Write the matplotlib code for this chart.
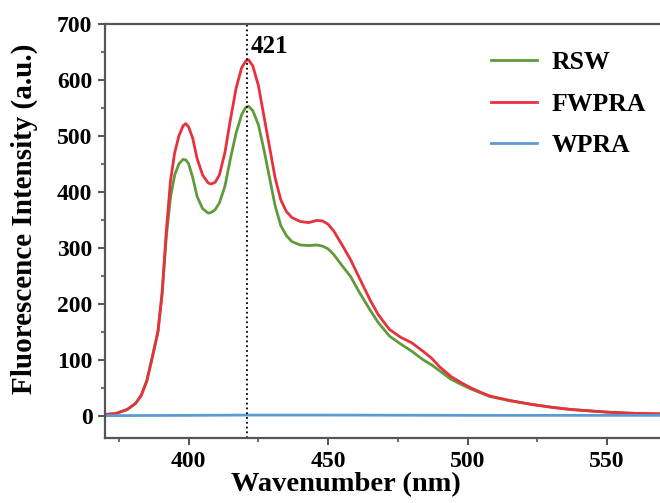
import matplotlib.pyplot as plt

# datos
onda_rojo = [370, 374, 378, 381, 383, 385, 387, 389, 390.5, 392, 393.5, 395, 396.5, 398, 399,
             400, 401.5, 403, 405, 407, 408, 409.5, 411, 413, 415, 417, 419, 420.5, 421.5, 423,
             425, 427, 429, 431, 433, 435, 437, 440, 443, 446, 448, 450, 452, 455, 458, 461,
             465, 468, 472, 476, 480, 484, 487, 490, 494, 498, 501, 505, 508, 515, 523, 530,
             537, 545, 551, 560, 570]
fwpra = [2, 4, 11, 22, 36, 62, 105, 150, 220, 330, 420, 470, 500, 518, 522,
         516, 495, 460, 430, 416, 414, 417, 430, 470, 530, 585, 622, 634, 636, 625,
         590, 535, 480, 425, 386, 365, 354, 347, 345, 349, 348, 342, 330, 305, 279, 248,
         207, 180, 154, 140, 130, 115, 103, 87, 70, 58, 50, 41, 35, 27, 20, 15,
         11, 8, 6, 4, 3]

onda_verde = [370, 374, 378, 381, 383, 385, 387, 389, 390.5, 392, 393.5, 395, 396.5, 398, 399,
              400, 401.5, 403, 405, 407, 408, 409.5, 411, 413, 415, 417, 419, 420.5, 421.5, 423,
              425, 427, 429, 431, 433, 435, 437, 440, 443, 446, 448, 450, 452, 455, 458, 461,
              465, 468, 472, 476, 480, 484, 487, 490, 494, 498, 501, 505, 508, 515, 523, 530,
              537, 545, 551, 560, 570]
rsw = [2, 4, 11, 22, 36, 62, 105, 150, 218, 320, 390, 430, 450, 458, 457,
       450, 425, 392, 370, 362, 363, 368, 380, 410, 460, 505, 538, 551, 553, 545,
       520, 475, 425, 375, 340, 322, 311, 305, 304, 305, 303, 298, 288, 268, 249, 222,
       189, 166, 142, 128, 115, 100, 91, 80, 65, 55, 48, 40, 34, 27, 20, 15,
       11, 8, 6, 4, 3]

onda_azul = [370, 400, 420, 450, 500, 550, 570]
wpra = [0, 0.5, 1, 1, 0.5, 0.5, 0.5]

pico = 421

plt.rcParams['font.family'] = ['Liberation Serif', 'DejaVu Serif']
plt.rcParams['font.weight'] = 'bold'

fig = plt.figure(figsize=(6.6, 5.03), dpi=100)
ax = fig.add_axes([0.159, 0.1292, 0.8455, 0.8231])

ax.plot(onda_verde, rsw, color='#5f9b3c', linewidth=2.0, label='RSW')
ax.plot(onda_rojo, fwpra, color='#e8313d', linewidth=2.0, label='FWPRA')
ax.plot(onda_azul, wpra, color='#5b9bd5', linewidth=2.0, label='WPRA')

ax.axvline(pico, color='k', linestyle=':', linewidth=1.3)
ax.text(pico + 1.2, 660, str(pico), fontsize=18, fontweight='bold', va='center')

ax.set_xlim(370, 570)
ax.set_ylim(-40, 700)
ax.set_xticks([400, 450, 500, 550])
ax.set_xticks([375, 425, 475, 525], minor=True)
ax.set_yticks(range(0, 701, 100))
ax.set_yticks(range(50, 700, 100), minor=True)

ax.tick_params(which='major', direction='out', length=5, width=1.3, labelsize=17,
               color='#444444', pad=4)
ax.tick_params(which='minor', direction='out', length=3, width=1.1, color='#444444')
for lbl in ax.get_xticklabels() + ax.get_yticklabels():
    lbl.set_fontweight('bold')

for s in ['left', 'bottom', 'top']:
    ax.spines[s].set_color('#555555')
    ax.spines[s].set_linewidth(1.6)
ax.spines['right'].set_visible(False)

ax.set_xlabel('Wavenumber (nm)', fontsize=20.5, fontweight='bold')
ax.set_ylabel('Fluorescence Intensity (a.u.)', fontsize=21, fontweight='bold')
ax.xaxis.set_label_coords(0.432, -0.083)
ax.yaxis.set_label_coords(-0.12, 0.53)

ax.legend(frameon=False, loc='upper left', bbox_to_anchor=(0.65, 0.99),
          handlelength=1.8, handletextpad=0.55, labelspacing=0.72,
          prop={'weight': 'bold', 'size': 18.5})

plt.savefig('out.png', dpi=100)
